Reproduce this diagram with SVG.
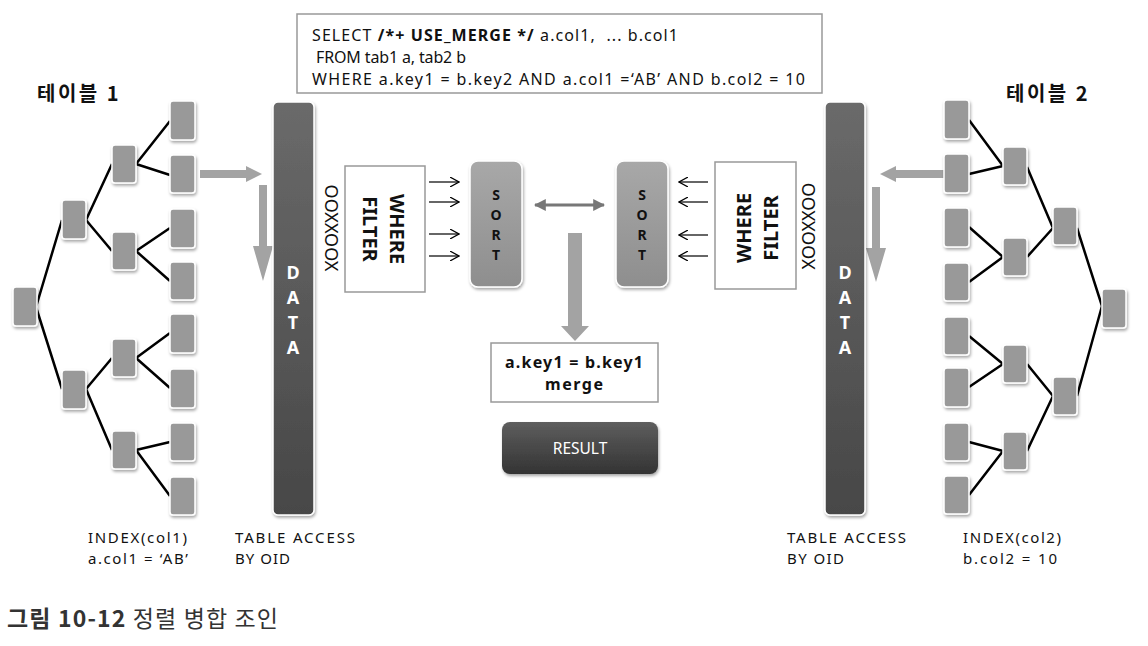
<svg xmlns="http://www.w3.org/2000/svg" width="1148" height="646" viewBox="0 0 1148 646">
<defs>
<filter id="sh" x="-30%" y="-30%" width="160%" height="160%">
<feDropShadow dx="1" dy="2" stdDeviation="1.5" flood-color="#000" flood-opacity="0.35"/>
</filter>
<linearGradient id="gDark" x1="0" y1="0" x2="0" y2="1">
<stop offset="0" stop-color="#6a6a6a"/><stop offset="1" stop-color="#474747"/>
</linearGradient>
<linearGradient id="gRes" x1="0" y1="0" x2="0" y2="1">
<stop offset="0" stop-color="#5e5e5e"/><stop offset="1" stop-color="#333"/>
</linearGradient>
<linearGradient id="gSort" x1="0" y1="0" x2="0" y2="1">
<stop offset="0" stop-color="#a8a8a8"/><stop offset="1" stop-color="#8e8e8e"/>
</linearGradient>
<marker id="chev" viewBox="0 0 10 10" refX="9" refY="5" markerWidth="10" markerHeight="10" markerUnits="userSpaceOnUse" orient="auto">
<path d="M0,0 L9,5 L0,10" fill="none" stroke="#000" stroke-width="1.2"/>
</marker>
<marker id="tri" viewBox="0 0 10 10" refX="9" refY="5" markerWidth="12" markerHeight="12" markerUnits="userSpaceOnUse" orient="auto-start-reverse">
<path d="M0,0 L10,5 L0,10 Z" fill="#777"/>
</marker>
</defs>
<style>
.leaf{fill:#999;stroke:#fff;stroke-width:1.5;filter:url(#sh)}
.bar{fill:url(#gDark);stroke:#fff;stroke-width:1.5;filter:url(#sh)}
.sort{fill:url(#gSort);stroke:#fff;stroke-width:1.5;filter:url(#sh)}
.box{fill:#fff;stroke:#999;stroke-width:1.5}
.tl{stroke:#000;stroke-width:2.5;fill:none}
.sa{stroke:#000;stroke-width:1.2;fill:none;marker-end:url(#chev)}
.ga{fill:#a3a3a3}
text{font-family:"Noto Sans","Noto Sans CJK KR",sans-serif;fill:#111}
.ko{font-family:"Noto Sans CJK KR","Noto Sans",sans-serif}
.b{font-weight:bold}
.lab{font-size:15px}
.sq{font-size:16px}
.dl{font-size:18px;font-weight:bold;fill:#fff;text-anchor:middle}
.sl{font-size:14px;font-weight:bold;text-anchor:middle;fill:#111}
.wf{font-size:20px;font-weight:bold;text-anchor:middle;dominant-baseline:central}
.ox{font-size:18px;text-anchor:middle;dominant-baseline:central}
</style>
<rect width="1148" height="646" fill="#fff"/>

<g id="connectors">
<path class="tl" d="M36,307 L62,220 M36,307 L62,389"/>
<path class="tl" d="M86,220 L112,164 M86,220 L112,251 M86,389 L112,358 M86,389 L112,450"/>
<path class="tl" d="M136,164 L170,121 M136,164 L170,175 M136,251 L170,228 M136,251 L170,281"/>
<path class="tl" d="M136,358 L170,333 M136,358 L170,388 M136,450 L170,442 M136,450 L170,496"/>
<path class="tl" d="M1102,306 L1077,228 M1102,306 L1077,396"/>
<path class="tl" d="M1053,228 L1027,167 M1053,228 L1027,257 M1053,396 L1027,364 M1053,396 L1027,451"/>
<path class="tl" d="M1003,166 L969,120 M1003,166 L969,174 M1003,257 L969,227 M1003,257 L969,282"/>
<path class="tl" d="M1003,364 L969,336 M1003,364 L969,387 M1003,451 L969,442 M1003,451 L969,495"/>
<path class="ga" d="M200,170 L246,170 L246,166 L262,174 L246,182 L246,178 L200,178 Z"/>
<path class="ga" d="M259,185 L267,185 L267,246 L273,246 L263,281 L253,246 L259,246 Z"/>
<path class="ga" d="M945,170 L896,170 L896,166 L880,174 L896,182 L896,178 L945,178 Z"/>
<path class="ga" d="M872,187 L880,187 L880,248 L886,248 L876,282 L866,248 L872,248 Z"/>
<path class="ga" d="M568,233 L582,233 L582,326 L589,326 L575,341 L561,326 L568,326 Z"/>
<line class="sa" x1="429" y1="182" x2="459" y2="182"/>
<line class="sa" x1="429" y1="202" x2="459" y2="202"/>
<line class="sa" x1="429" y1="234" x2="459" y2="234"/>
<line class="sa" x1="429" y1="256" x2="459" y2="256"/>
<line class="sa" x1="708" y1="182" x2="679" y2="182"/>
<line class="sa" x1="708" y1="202" x2="679" y2="202"/>
<line class="sa" x1="708" y1="235" x2="679" y2="235"/>
<line class="sa" x1="708" y1="256" x2="679" y2="256"/>
<line x1="535" y1="205" x2="604" y2="205" stroke="#777" stroke-width="3" marker-start="url(#tri)" marker-end="url(#tri)"/>
</g>

<g id="sql">
<rect class="box" x="297" y="14" width="525" height="79" stroke="#888"/>
<text class="sq" x="312" y="41" textLength="366" lengthAdjust="spacing" xml:space="preserve">SELECT <tspan class="b">/*+ USE_MERGE */</tspan> a.col1,  ... b.col1</text>
<text class="sq" x="312" y="63" textLength="154" lengthAdjust="spacing" xml:space="preserve"> FROM tab1 a, tab2 b</text>
<text class="sq" x="312" y="85" textLength="493" lengthAdjust="spacing" xml:space="preserve">WHERE a.key1 = b.key2 AND a.col1 =‘AB’ AND b.col2 = 10</text>
</g>

<g id="title1"><text class="ko b" x="37" y="101" font-size="20" letter-spacing="2.5">테이블 1</text></g>
<g id="title2"><text class="ko b" x="1006" y="101" font-size="20" letter-spacing="2.5">테이블 2</text></g>

<g id="tree1">
<rect class="leaf" x="13" y="287" width="24" height="39" rx="3"/>
<rect class="leaf" x="62" y="200" width="24" height="39" rx="3"/>
<rect class="leaf" x="62" y="370" width="24" height="39" rx="3"/>
<rect class="leaf" x="112" y="145" width="24" height="38" rx="3"/>
<rect class="leaf" x="112" y="232" width="24" height="38" rx="3"/>
<rect class="leaf" x="112" y="339" width="24" height="38" rx="3"/>
<rect class="leaf" x="112" y="431" width="24" height="38" rx="3"/>
<rect class="leaf" x="170" y="101" width="25" height="39" rx="3"/>
<rect class="leaf" x="170" y="155" width="25" height="38" rx="3"/>
<rect class="leaf" x="170" y="209" width="25" height="39" rx="3"/>
<rect class="leaf" x="170" y="262" width="25" height="38" rx="3"/>
<rect class="leaf" x="170" y="314" width="25" height="39" rx="3"/>
<rect class="leaf" x="170" y="369" width="25" height="39" rx="3"/>
<rect class="leaf" x="170" y="423" width="25" height="38" rx="3"/>
<rect class="leaf" x="170" y="477" width="25" height="38" rx="3"/>
</g>

<g id="tree2">
<rect class="leaf" x="1102" y="289" width="24" height="39" rx="3"/>
<rect class="leaf" x="1053" y="207" width="24" height="38" rx="3"/>
<rect class="leaf" x="1053" y="377" width="24" height="38" rx="3"/>
<rect class="leaf" x="1003" y="147" width="24" height="38" rx="3"/>
<rect class="leaf" x="1003" y="238" width="24" height="38" rx="3"/>
<rect class="leaf" x="1003" y="345" width="24" height="38" rx="3"/>
<rect class="leaf" x="1003" y="432" width="24" height="38" rx="3"/>
<rect class="leaf" x="944" y="100" width="25" height="39" rx="3"/>
<rect class="leaf" x="944" y="154" width="25" height="39" rx="3"/>
<rect class="leaf" x="944" y="208" width="25" height="39" rx="3"/>
<rect class="leaf" x="944" y="263" width="25" height="38" rx="3"/>
<rect class="leaf" x="944" y="317" width="25" height="38" rx="3"/>
<rect class="leaf" x="944" y="368" width="25" height="39" rx="3"/>
<rect class="leaf" x="944" y="423" width="25" height="38" rx="3"/>
<rect class="leaf" x="944" y="476" width="25" height="38" rx="3"/>
</g>

<g id="data1">
<rect class="bar" x="273" y="102" width="41" height="413" rx="5"/>
<text class="dl" x="293" y="279">D</text>
<text class="dl" x="293" y="304">A</text>
<text class="dl" x="293" y="329">T</text>
<text class="dl" x="293" y="354">A</text>
</g>
<g id="data2">
<rect class="bar" x="825" y="102" width="40" height="413" rx="5"/>
<text class="dl" x="845" y="279">D</text>
<text class="dl" x="845" y="304">A</text>
<text class="dl" x="845" y="329">T</text>
<text class="dl" x="845" y="354">A</text>
</g>

<g id="ox1"><text class="ox" transform="translate(332,228) rotate(90)">OOXXOOX</text></g>
<g id="ox2"><text class="ox" transform="translate(808,226) rotate(-90)">XOOXXOO</text></g>

<g id="filter1">
<rect class="box" x="345" y="166" width="80" height="126"/>
<text class="wf" transform="translate(397,229) rotate(90)">WHERE</text>
<text class="wf" transform="translate(370,229) rotate(90)">FILTER</text>
</g>
<g id="filter2">
<rect class="box" x="715" y="162" width="81" height="127"/>
<text class="wf" transform="translate(743,228) rotate(-90)">WHERE</text>
<text class="wf" transform="translate(770,228) rotate(-90)">FILTER</text>
</g>

<g id="sort1">
<rect class="sort" x="470" y="161" width="52" height="126" rx="8"/>
<text class="sl" x="496" y="200">S</text>
<text class="sl" x="496" y="220">O</text>
<text class="sl" x="496" y="240">R</text>
<text class="sl" x="496" y="260">T</text>
</g>
<g id="sort2">
<rect class="sort" x="616" y="161" width="52" height="126" rx="8"/>
<text class="sl" x="642" y="200">S</text>
<text class="sl" x="642" y="220">O</text>
<text class="sl" x="642" y="240">R</text>
<text class="sl" x="642" y="260">T</text>
</g>

<g id="merge">
<rect class="box" x="491" y="343" width="167" height="59"/>
<text class="b" x="505" y="368" font-size="16" textLength="138" lengthAdjust="spacing">a.key1 = b.key1</text>
<text class="b" x="545" y="390" font-size="16" textLength="58" lengthAdjust="spacing">merge</text>
</g>

<g id="result">
<rect x="502" y="422" width="156" height="52" rx="8" fill="url(#gRes)" filter="url(#sh)"/>
<text x="580" y="454" font-size="15.5" text-anchor="middle" style="fill:#fff">RESULT</text>
</g>

<g id="labels">
<text class="lab" x="88" y="543" textLength="99" lengthAdjust="spacing">INDEX(col1)</text>
<text class="lab" x="88" y="564" textLength="100" lengthAdjust="spacing">a.col1 = ‘AB’</text>
<text class="lab" x="235" y="543" textLength="120" lengthAdjust="spacing">TABLE ACCESS</text>
<text class="lab" x="235" y="564" textLength="55" lengthAdjust="spacing">BY OID</text>
<text class="lab" x="787" y="543" textLength="119" lengthAdjust="spacing">TABLE ACCESS</text>
<text class="lab" x="787" y="564" textLength="57" lengthAdjust="spacing">BY OID</text>
<text class="lab" x="963" y="543" textLength="98" lengthAdjust="spacing">INDEX(col2)</text>
<text class="lab" x="963" y="564" textLength="94" lengthAdjust="spacing">b.col2 = 10</text>
</g>

<g id="caption">
<text class="ko" x="7" y="627" font-size="23" textLength="271" lengthAdjust="spacing" style="fill:#333"><tspan class="b">그림 10-12</tspan> 정렬 병합 조인</text>
</g>
</svg>
